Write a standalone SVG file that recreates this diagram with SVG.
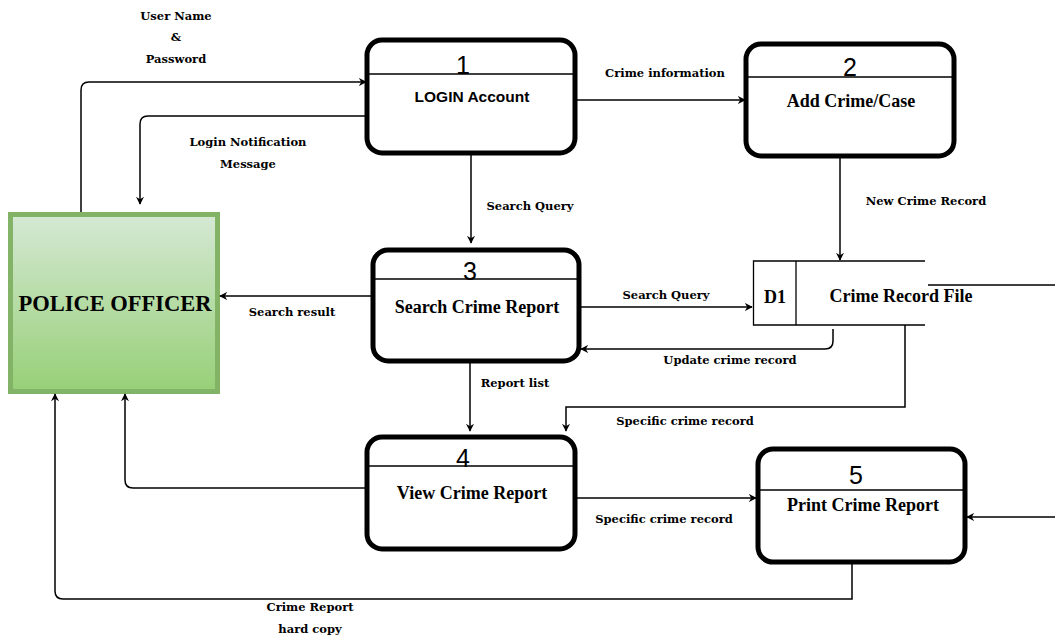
<svg xmlns="http://www.w3.org/2000/svg" width="1055" height="638" viewBox="0 0 1055 638">
  <style>
    .proc { fill: #ffffff; stroke: #000000; stroke-width: 5; }
    .div { stroke: #000000; stroke-width: 1.3; fill: none; }
    .num { font-family: "Liberation Sans", Arial, sans-serif; font-size: 25px; fill: #000; text-anchor: middle; }
    .ttl { font-family: "Liberation Serif", "Times New Roman", serif; font-weight: bold; font-size: 18px; fill: #000; text-anchor: middle; }
    .ttls { font-family: "Liberation Sans", Arial, sans-serif; font-weight: bold; font-size: 15.5px; fill: #000; text-anchor: middle; }
    .lbl { font-family: "DejaVu Serif", "Liberation Serif", serif; font-weight: bold; font-size: 11.5px; fill: #000; text-anchor: middle; }
    .edge { fill: none; stroke: #000000; stroke-width: 1.5; marker-end: url(#arr); }
    .line { fill: none; stroke: #000000; stroke-width: 1.5; }
    .store { fill: none; stroke: #000000; stroke-width: 1.3; }
  </style>
  <defs>
    <linearGradient id="green" x1="0" y1="0" x2="0" y2="1">
      <stop offset="0" stop-color="#d5e8d4"/>
      <stop offset="1" stop-color="#97d077"/>
    </linearGradient>
    <marker id="arr" viewBox="0 0 10 10" refX="9" refY="5" markerWidth="8" markerHeight="8" markerUnits="userSpaceOnUse" orient="auto">
      <path d="M0,0 L10,5 L0,10 L3,5 z" fill="#000"/>
    </marker>
  </defs>

  <!-- external entity -->
  <g id="police-officer">
    <rect x="10.5" y="214.5" width="207" height="177" fill="url(#green)" stroke="#82b366" stroke-width="5"/>
    <text x="115" y="311" font-family="Liberation Serif, serif" font-weight="bold" font-size="22.5" text-anchor="middle" fill="#000">POLICE OFFICER</text>
  </g>

  <!-- processes -->
  <g id="p1">
    <rect class="proc" x="367" y="40" width="208" height="113" rx="15"/>
    <line class="div" x1="368" y1="74" x2="574" y2="74"/>
    <text class="num" x="463" y="74">1</text>
    <text class="ttls" x="472" y="102">LOGIN Account</text>
  </g>
  <g id="p2">
    <rect class="proc" x="746" y="44" width="208" height="112" rx="15"/>
    <line class="div" x1="747" y1="77" x2="953" y2="77"/>
    <text class="num" x="850" y="76">2</text>
    <text class="ttl" x="851" y="107">Add Crime/Case</text>
  </g>
  <g id="p3">
    <rect class="proc" x="373" y="250" width="206" height="111" rx="15"/>
    <line class="div" x1="374" y1="279" x2="578" y2="279"/>
    <text class="num" x="470" y="280">3</text>
    <text class="ttl" x="477" y="313">Search Crime Report</text>
  </g>
  <g id="p4">
    <rect class="proc" x="367" y="437" width="208" height="112" rx="15"/>
    <line class="div" x1="368" y1="466" x2="574" y2="466"/>
    <text class="num" x="463" y="467">4</text>
    <text class="ttl" x="472" y="499">View Crime Report</text>
  </g>
  <g id="p5">
    <rect class="proc" x="758" y="449" width="207" height="113" rx="15"/>
    <line class="div" x1="759" y1="490" x2="964" y2="490"/>
    <text class="num" x="856" y="484">5</text>
    <text class="ttl" x="863" y="511">Print Crime Report</text>
  </g>

  <!-- data store -->
  <g id="d1">
    <path class="store" d="M925,261 H753.5 V325 H925"/>
    <line class="store" x1="796" y1="261" x2="796" y2="325"/>
    <text class="ttl" x="775" y="303" font-size="15">D1</text>
    <text class="ttl" x="901" y="302">Crime Record File</text>
  </g>

  <!-- data flows -->
  <g id="connectors">
    <path class="edge" d="M81,212 V90 Q81,82 89,82 H366"/>
    <path class="edge" d="M366,116 H148 Q140,116 140,124 V204"/>
    <path class="edge" d="M576,100 H745"/>
    <path class="edge" d="M471,155 V243"/>
    <path class="edge" d="M840,158 V260"/>
    <path class="edge" d="M372,296 H220"/>
    <path class="edge" d="M581,307 H752"/>
    <path class="edge" d="M833,329 V341 Q833,349 825,349 H581"/>
    <path class="edge" d="M470,362 V431"/>
    <path class="edge" d="M905,325 V407 H566 V431"/>
    <path class="edge" d="M366,488 H133 Q125,488 125,480 V394"/>
    <path class="edge" d="M576,498 H756"/>
    <path class="edge" d="M852,564 V599 H63 Q55,599 55,591 V394"/>
    <path class="line" d="M928,285 H1055"/>
    <path class="edge" d="M1055,517 H967"/>
  </g>

  <!-- flow labels -->
  <g id="labels">
    <text class="lbl" x="176" y="20">User Name</text>
    <text class="lbl" x="176" y="41">&amp;</text>
    <text class="lbl" x="176" y="63">Password</text>
    <text class="lbl" x="248" y="146">Login Notification</text>
    <text class="lbl" x="248" y="168">Message</text>
    <text class="lbl" x="665" y="77">Crime information</text>
    <text class="lbl" x="530" y="210">Search Query</text>
    <text class="lbl" x="926" y="205">New Crime Record</text>
    <text class="lbl" x="292" y="316">Search result</text>
    <text class="lbl" x="666" y="299">Search Query</text>
    <text class="lbl" x="730" y="364">Update crime record</text>
    <text class="lbl" x="515" y="387">Report list</text>
    <text class="lbl" x="685" y="425">Specific crime record</text>
    <text class="lbl" x="664" y="523">Specific crime record</text>
    <text class="lbl" x="310" y="611">Crime Report</text>
    <text class="lbl" x="310" y="633">hard copy</text>
  </g>
</svg>
